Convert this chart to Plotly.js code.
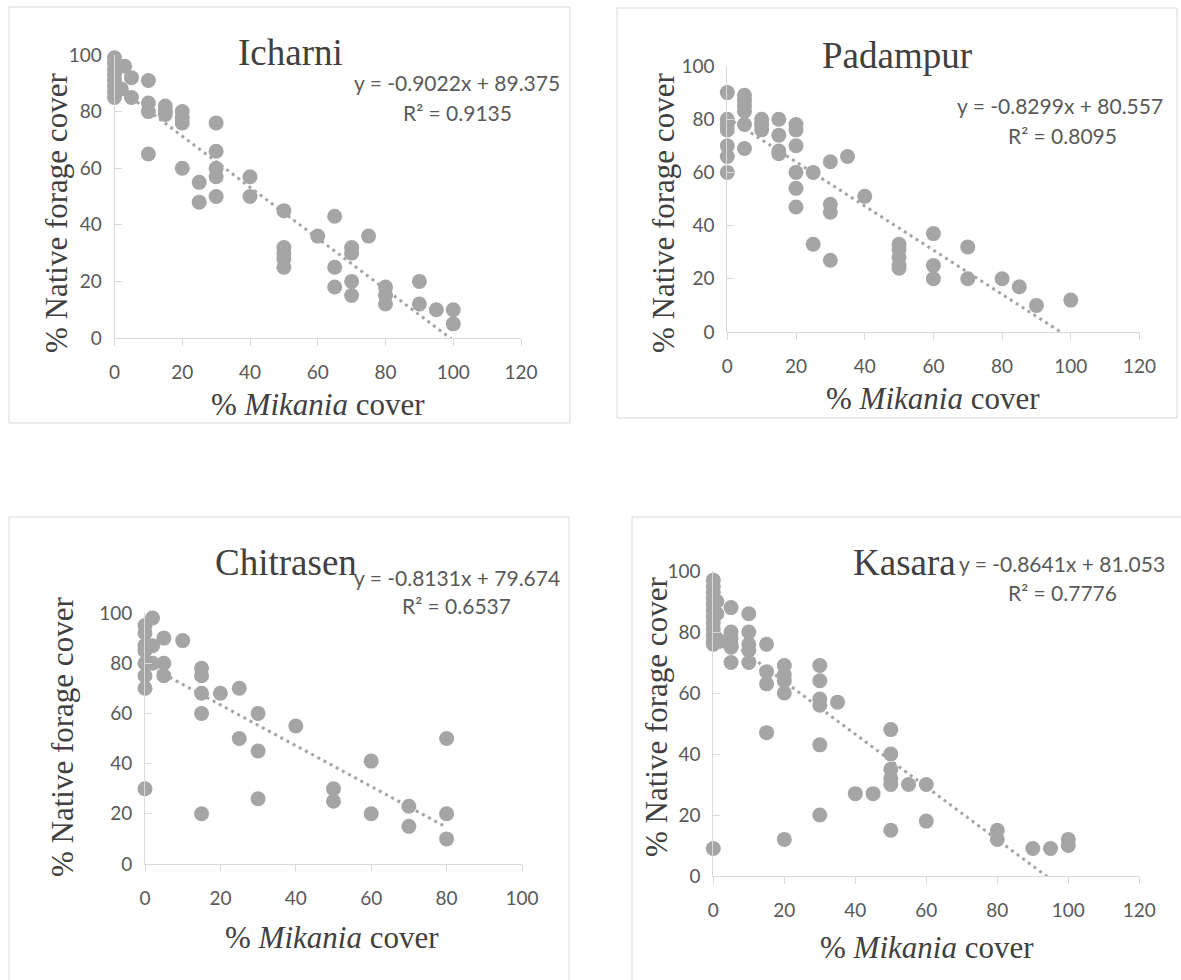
<!DOCTYPE html>
<html>
<head>
<meta charset="utf-8">
<script src="https://cdn.plot.ly/plotly-3.0.1.min.js"></script>
<style>html,body{margin:0;padding:0;background:#fff;}#chart{width:1181px;height:980px;}</style>
</head>
<body>
<div id="chart"></div>
<script>
// ---- data ----
const siteNames = ["Icharni", "Padampur", "Chitrasen", "Kasara"];
const equations = ["y = -0.9022x + 89.375", "y = -0.8299x + 80.557", "y = -0.8131x + 79.674", "y = -0.8641x + 81.053"];
const rSquared = ["R² = 0.9135", "R² = 0.8095", "R² = 0.6537", "R² = 0.7776"];
const slopes = [-0.9022, -0.8299, -0.8131, -0.8641];
const intercepts = [89.375, 80.557, 79.674, 81.053];
const xTickMax = [120, 120, 100, 120];

const icharniX = [0,0,0,0,0,0,0,0, 2,3, 5,5, 10,10,10,10, 15,15,15, 20,20,20,20, 25,25, 30,30,30,30,30, 40,40, 50,50,50,50,50, 60, 65,65,65, 70,70,70,70, 75, 80,80,80, 90,90, 95, 100,100];
const icharniY = [99,97,95,93,91,89,87,85, 88,96, 92,85, 91,83,80,65, 82,80,79, 80,78,76,60, 55,48, 76,66,60,57,50, 57,50, 45,32,30,28,25, 36, 43,25,18, 32,30,20,15, 36, 18,15,12, 20,12, 10, 10,5];

const padampurX = [0,0,0,0,0,0,0, 5,5,5,5,5,5, 10,10,10, 15,15,15,15, 20,20,20,20,20,20, 25,25, 30,30,30,30, 35, 40, 50,50,50,50,50, 60,60,60, 70,70, 80, 85, 90, 100];
const padampurY = [90,80,78,76,70,66,60, 89,87,85,83,78,69, 80,78,76, 80,74,68,67, 78,76,70,60,54,47, 60,33, 64,48,45,27, 66, 51, 33,31,28,25,24, 37,25,20, 32,20, 20, 17, 10, 12];

const chitrasenX = [0,0,0,0,0,0,0,0, 2,2,2, 5,5,5, 10, 15,15,15,15,15, 20, 25,25, 30,30,30, 40, 50,50, 60,60, 70,70, 80,80,80];
const chitrasenY = [95,92,87,85,80,75,70,30, 98,87,80, 90,80,75, 89, 78,75,68,60,20, 68, 70,50, 60,45,26, 55, 30,25, 41,20, 23,15, 50,20,10];

const kasaraX = [0,0,0,0,0,0,0,0,0,0,0,0,0, 1,1, 2, 5,5,5,5,5,5, 10,10,10,10,10, 15,15,15,15, 20,20,20,20,20, 30,30,30,30,30,30, 35, 40, 45, 50,50,50,50,50,50, 55, 60,60, 80,80, 90, 95, 100,100];
const kasaraY = [97,95,93,91,89,87,85,83,81,79,77,76,9, 90,86, 77, 88,80,78,76,75,70, 86,80,76,74,70, 76,67,63,47, 69,66,64,60,12, 69,64,58,56,43,20, 57, 27, 27, 48,40,35,32,30,15, 30, 30,18, 15,12, 9, 9, 12,10];

const seriesX = [icharniX, padampurX, chitrasenX, kasaraX];
const seriesY = [icharniY, padampurY, chitrasenY, kasaraY];

// ---- layout geometry (pixels) ----
const W = 1181, H = 980;
const px = v => v / W;
const py = v => 1 - v / H;
const panels = [
  {x0:114.5, x1:521,    y0:338, y1:55,  box:[9,7,570,423],      title:[290,53],  eq:[457,82],   r2:[457,112],  xt:[318,404],  yt:[56,213]},
  {x0:727.3, x1:1139.5, y0:332, y1:66,  box:[617,8,1177,418],   title:[897,55],  eq:[1060,106], r2:[1062,135], xt:[933,398],  yt:[663,213]},
  {x0:145,   x1:522,    y0:864, y1:613, box:[9,517,569,1000],   title:[286,562], eq:[457,577],  r2:[456,605],  xt:[332,937],  yt:[62,737]},
  {x0:713.3, x1:1139.3, y0:876, y1:571, box:[632,517,1200,1000],title:[904,562], eq:[1062,563], r2:[1062,592], xt:[927,947],  yt:[656,717]}
];

const grey = '#a5a5a5';
const axisCol = '#d9d9d9';
const textCol = '#595959';
const serif = 'Liberation Serif, DejaVu Serif, serif';
const sans = 'Lato, Open Sans, sans-serif';

const traces = [];
const layout = {
  width: W, height: H,
  margin: {l:0, r:0, t:0, b:0},
  paper_bgcolor: '#ffffff', plot_bgcolor: '#ffffff',
  showlegend: false,
  shapes: [], annotations: []
};

panels.forEach((p, i) => {
  const n = i + 1;
  const xa = 'x' + (n === 1 ? '' : n), ya = 'y' + (n === 1 ? '' : n);
  const xk = 'xaxis' + (n === 1 ? '' : n), yk = 'yaxis' + (n === 1 ? '' : n);
  traces.push({
    type: 'scatter', mode: 'markers', x: seriesX[i], y: seriesY[i], xaxis: xa, yaxis: ya,
    marker: {color: grey, size: 15, line: {width: 0}}, cliponaxis: false, hoverinfo: 'x+y'
  });
  const xmin = Math.min(...seriesX[i]), xmax = Math.max(...seriesX[i]);
  traces.push({
    type: 'scatter', mode: 'lines', x: [xmin, xmax],
    y: [slopes[i] * xmin + intercepts[i], slopes[i] * xmax + intercepts[i]],
    xaxis: xa, yaxis: ya, line: {color: grey, width: 3, dash: '3px,4px'}, hoverinfo: 'skip'
  });
  layout[xk] = {
    domain: [px(p.x0), px(p.x1)], range: [0, xTickMax[i]], anchor: ya,
    tickmode: 'linear', tick0: 0, dtick: 20,
    showline: true, linecolor: axisCol, linewidth: 1,
    ticks: 'outside', ticklen: 7, tickcolor: axisCol, tickwidth: 1,
    showgrid: false, zeroline: false, ticklabelstandoff: 10,
    tickfont: {family: sans, size: 19, color: textCol}, fixedrange: true
  };
  layout[yk] = {
    domain: [py(p.y0), py(p.y1)], range: [0, 100], anchor: xa,
    tickmode: 'linear', tick0: 0, dtick: 20,
    showline: true, linecolor: axisCol, linewidth: 1,
    ticks: 'inside', ticklen: 7, tickcolor: axisCol, tickwidth: 1,
    showgrid: false, zeroline: false, ticklabelstandoff: 8,
    tickfont: {family: sans, size: 19, color: textCol}, fixedrange: true
  };
  layout.shapes.push({type:'rect', xref:'paper', yref:'paper',
    x0: px(p.box[0]), x1: px(p.box[2]), y0: py(p.box[3]), y1: py(p.box[1]),
    line: {color: axisCol, width: 1}, fillcolor: 'rgba(0,0,0,0)', layer: 'below'});
  const ann = (pos, text, font, extra) => Object.assign({
    xref:'paper', yref:'paper', x: px(pos[0]), y: py(pos[1]), text: text,
    showarrow: false, xanchor:'center', yanchor:'middle', font: font
  }, extra || {});
  layout.annotations.push(ann(p.title, siteNames[i], {family: serif, size: 37, color: '#404040'}));
  layout.annotations.push(ann(p.eq, equations[i], {family: sans, size: 21, color: textCol}));
  layout.annotations.push(ann(p.r2, rSquared[i], {family: sans, size: 21, color: textCol}));
  layout.annotations.push(ann(p.xt, '% <i>Mikania</i> cover', {family: serif, size: 31, color: '#404040'}));
  layout.annotations.push(ann(p.yt, '% Native forage cover', {family: serif, size: 31, color: '#404040'}, {textangle: -90}));
});

Plotly.newPlot('chart', traces, layout, {displayModeBar: false, staticPlot: true});
</script>
</body>
</html>
